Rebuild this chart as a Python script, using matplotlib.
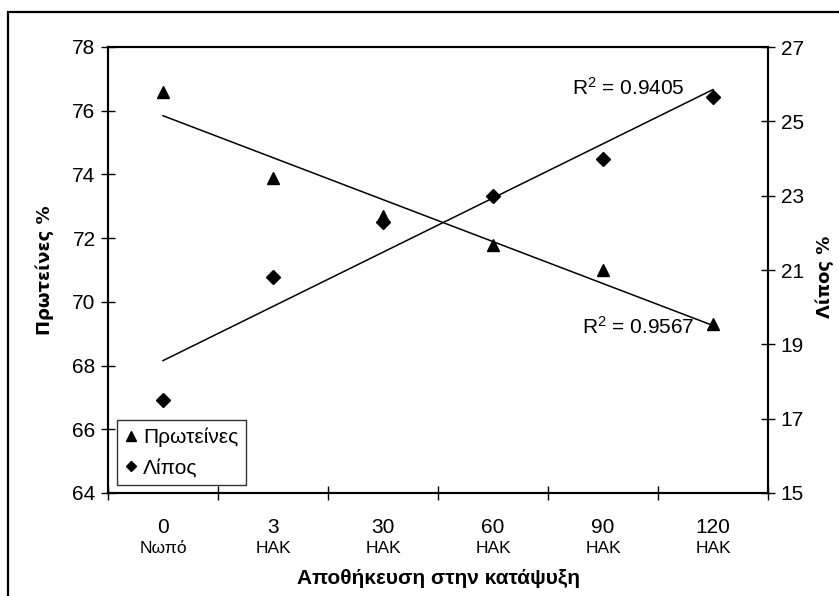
import matplotlib
matplotlib.use('Agg')
import matplotlib.pyplot as plt
from matplotlib.patches import Rectangle
import numpy as np

plt.rcParams['font.family'] = ['Liberation Sans', 'DejaVu Sans']
plt.rcParams['mathtext.fontset'] = 'custom'
plt.rcParams['mathtext.rm'] = 'Liberation Sans'
plt.rcParams['mathtext.it'] = 'Liberation Sans'

# storage time categories
days = ['0', '3', '30', '60', '90', '120']
days_sub = ['Νωπό', 'ΗΑΚ', 'ΗΑΚ', 'ΗΑΚ', 'ΗΑΚ', 'ΗΑΚ']
protein = [76.6, 73.9, 72.7, 71.8, 71.0, 69.3]
fat = [17.5, 20.8, 22.3, 23.0, 24.0, 25.65]
r2_fat = '0.9405'
r2_protein = '0.9567'

x = np.arange(len(days))

fig = plt.figure(figsize=(8.39, 5.96), dpi=100)
fig.patches.append(Rectangle((8/839, -0.2), 1.2, 1.2 - 12/596, transform=fig.transFigure,
                             fill=False, edgecolor='black', linewidth=1.6))

ax = fig.add_axes([108/839, 103/596, 660/839, 446/596])
ax2 = ax.twinx()

l1, = ax.plot(x, protein, linestyle='none', marker='^', markersize=9, color='black', label='Πρωτείνες')
p = np.polyfit(x, protein, 1)
ax.plot(x, np.polyval(p, x), color='black', linewidth=1.1)

l2, = ax2.plot(x, fat, linestyle='none', marker='D', markersize=7, color='black', label='Λίπος')
q = np.polyfit(x, fat, 1)
ax2.plot(x, np.polyval(q, x), color='black', linewidth=1.1)

ax.set_xlim(-0.5, 5.5)
ax.set_ylim(64, 78)
ax.set_yticks(np.arange(64, 79, 2))
ax2.set_ylim(15, 27)
ax2.set_yticks(np.arange(15, 28, 2))

ax.set_xticks(x)
ax.set_xticklabels(days, fontsize=15)
ax.tick_params(axis='x', which='major', length=0, pad=18)
ax.set_xticks(np.arange(-0.5, 6, 1), minor=True)
ax.tick_params(axis='x', which='minor', direction='inout', length=10, width=1)
ax.tick_params(axis='y', direction='inout', length=10, width=1, labelsize=15, pad=4)
ax2.tick_params(axis='y', direction='inout', length=10, width=1, labelsize=15, pad=4)

for s in ax.spines.values():
    s.set_linewidth(1.5)
for s in ax2.spines.values():
    s.set_linewidth(1.5)

for xi, lab in zip(x, days_sub):
    ax.text(xi, -0.125, lab, transform=ax.get_xaxis_transform(), ha='center', va='center', fontsize=12.5)

ax.text(0.703, 0.908, r'R$^2$ = ' + r2_fat, transform=ax.transAxes, fontsize=15, va='center')
ax.text(0.718, 0.372, r'R$^2$ = ' + r2_protein, transform=ax.transAxes, fontsize=15, va='center')

leg = ax2.legend(handles=[l1, l2], loc='lower left', bbox_to_anchor=(0.014, 0.018),
                 fontsize=15, frameon=True, fancybox=False, handlelength=0.6, markerscale=0.8,
                 handletextpad=0.3, borderpad=0.35, labelspacing=0.55, borderaxespad=0)
leg.get_frame().set_edgecolor('black')
leg.get_frame().set_linewidth(1.0)

fig.text(438/839, 0.030, 'Αποθήκευση στην κατάψυξη', ha='center', va='center',
         fontsize=15, fontweight='bold')
fig.text(45/839, 0.547, 'Πρωτείνες %', rotation=90, ha='center', va='center',
         fontsize=13, fontweight='bold', family=['DejaVu Sans'])
fig.text(825/839, 0.535, 'Λίπος %', rotation=90, ha='center', va='center',
         fontsize=13, fontweight='bold', family=['DejaVu Sans'])

fig.savefig('out.png', dpi=100)
